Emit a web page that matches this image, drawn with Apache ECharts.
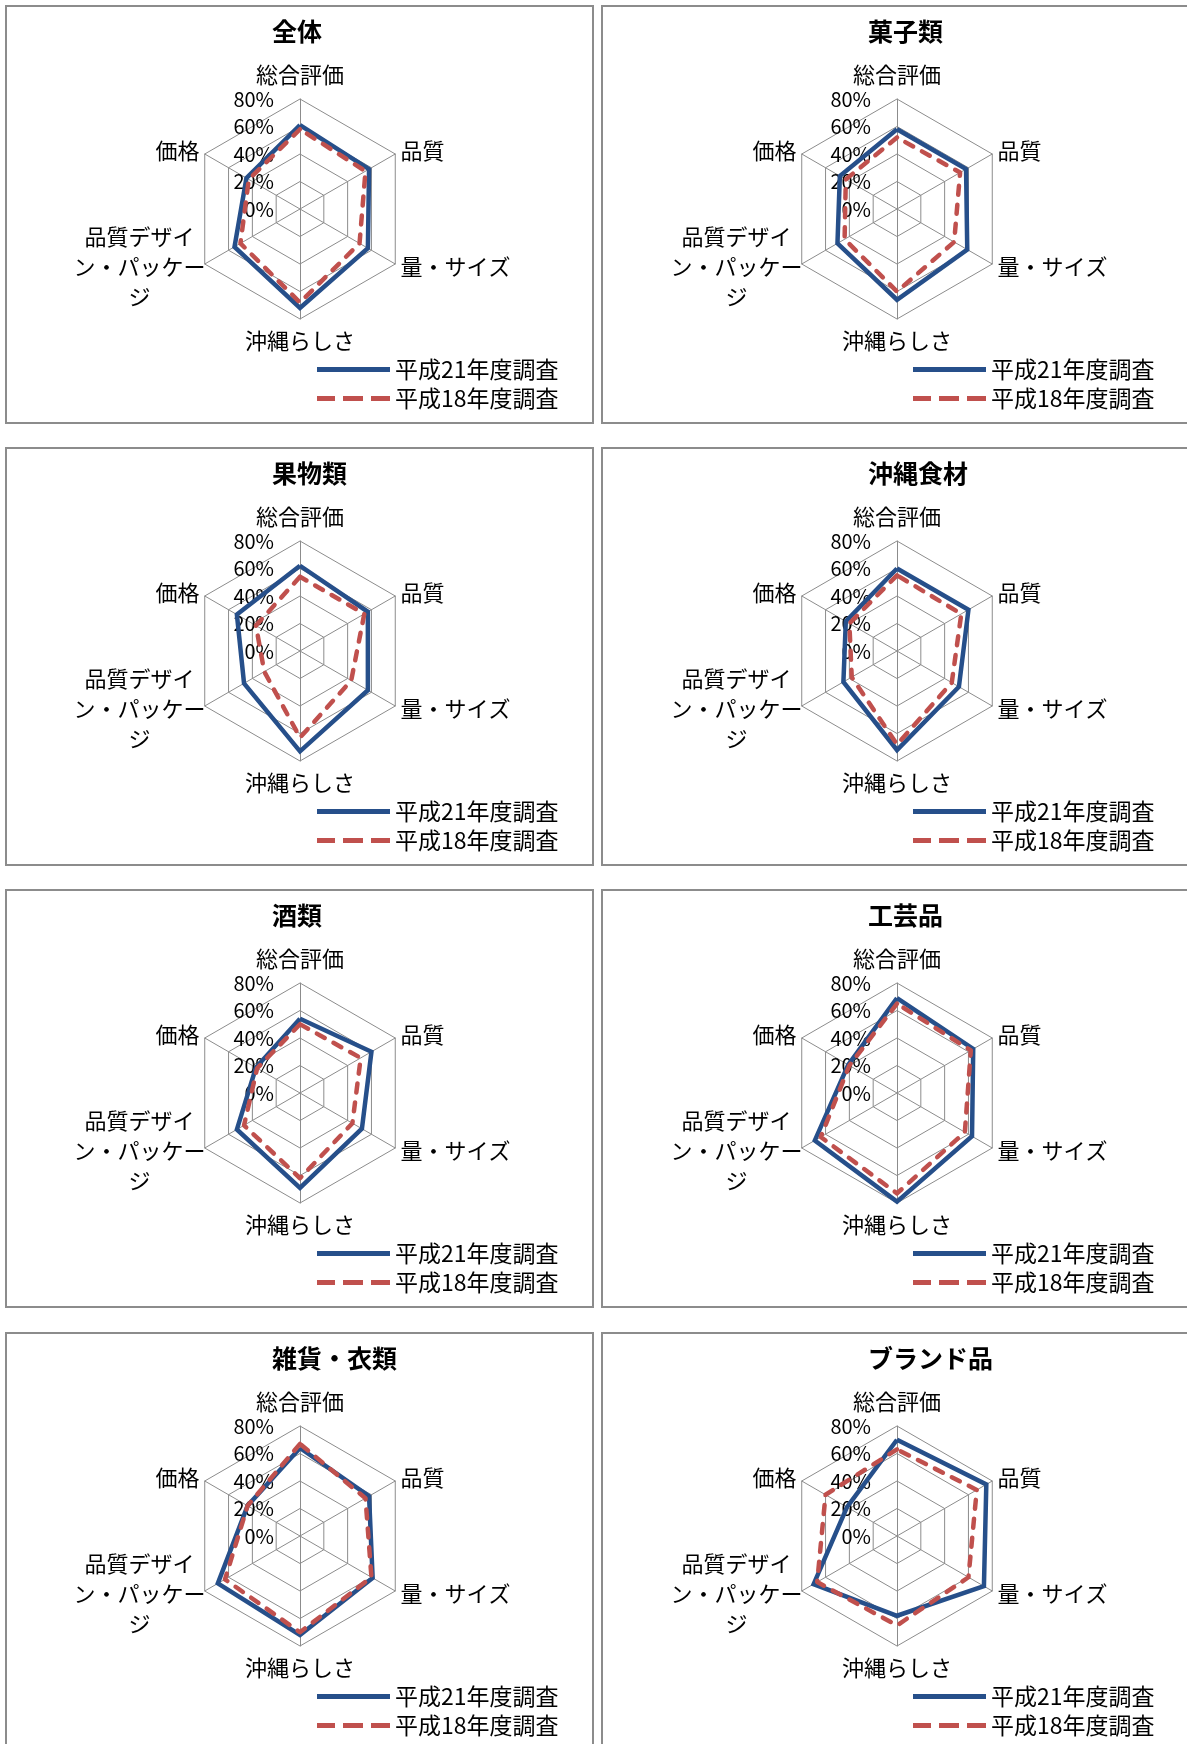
<!DOCTYPE html>
<html>
<head>
<meta charset="UTF-8">
<title>レーダーチャート</title>
<script src="https://cdn.jsdelivr.net/npm/echarts@6/dist/echarts.min.js"></script>
<style>
  html, body { margin: 0; padding: 0; background: #fff; overflow: hidden; }
  body { width: 1187px; height: 1744px; position: relative; }
  .panel { position: absolute; border: 2px solid #8c8c8c; box-sizing: border-box; background: #fff; }
</style>
</head>
<body>
<script type="text/javascript">
// 項目（時計回り、上から）
var categories = ['総合評価', '品質', '量・サイズ', '沖縄らしさ', '品質デザイン・パッケージ', '価格'];
var panelTitles = ['全体', '菓子類', '果物類', '沖縄食材', '酒類', '工芸品', '雑貨・衣類', 'ブランド品'];
var seriesNames = ['平成21年度調査', '平成18年度調査'];
// 各パネルの値（%）
var h21 = [
  [61, 58, 57, 72, 55, 45],
  [58, 58, 59, 66, 50, 48],
  [62, 57, 57, 73, 47, 53],
  [60, 60, 52, 72, 45, 43],
  [54, 60, 52, 69, 53, 37],
  [69, 64, 63, 79, 69, 41],
  [64, 58, 61, 72, 69, 44],
  [70, 75, 73, 58, 70, 42]
];
var h18 = [
  [58, 55, 50, 68, 50, 43],
  [52, 53, 48, 60, 44, 43],
  [54, 54, 43, 63, 30, 37],
  [55, 54, 46, 68, 38, 40],
  [50, 51, 44, 62, 47, 36],
  [65, 62, 57, 73, 64, 40],
  [67, 55, 60, 70, 63, 44],
  [63, 67, 60, 65, 67, 60]
];
var axisMin = 0, axisMax = 80, axisStep = 20;

var colors = ['#264f8a', '#c0504d'];
var gridColor = '#8c8c8c';
var fontFamily = '"Noto Sans CJK JP", "Noto Sans CJK SC", sans-serif';

// パネル配置
var colLeft = [5, 601], colWidth = [589, 600];
var rowTop = [5, 447, 889, 1332], boxH = 419;
var centers = [[293, 202], [294, 202]];

// echarts のレーダーは反時計回りなので、先頭以外を逆順にする
function ccw(arr) {
  return [arr[0]].concat(arr.slice(1).reverse());
}

// 長いラベルの折り返し（元図と同じ位置で改行）
function wrapName(name) {
  if (name.length <= 8) return name;
  return '{w|' + name.slice(0, 5) + '}\n{w|' + name.slice(5, 11) + '}\n{w|' + name.slice(11) + '}';
}

var gaps = [13, 6, 6, 11, 6, 6];
var solidIcon = 'path://M0,0h73v5h-73z';
var dashIcon = 'path://M0,0h18v5h-18z M26,0h20v5h-20z M54,0h19v5h-19z';

panelTitles.forEach(function (title, p) {
  var col = p % 2, row = Math.floor(p / 2);
  var div = document.createElement('div');
  div.className = 'panel';
  div.style.left = colLeft[col] + 'px';
  div.style.top = rowTop[row] + 'px';
  div.style.width = colWidth[col] + 'px';
  div.style.height = boxH + 'px';
  document.body.appendChild(div);

  var chart = echarts.init(div);
  var cats = ccw(categories);
  var gapList = ccw(gaps);

  var option = {
    animation: false,
    textStyle: { fontFamily: fontFamily },
    title: {
      text: title,
      left: 265,
      top: 12,
      padding: 0,
      textStyle: { fontSize: 25, fontWeight: 'bold', color: '#000', fontFamily: fontFamily }
    },
    legend: {
      orient: 'vertical',
      left: 310,
      top: 351,
      padding: 0,
      itemWidth: 73,
      itemHeight: 5,
      itemGap: 6,
      selectedMode: false,
      itemStyle: { borderWidth: 0 },
      textStyle: { fontSize: 23, color: '#000', fontFamily: fontFamily },
      data: [
        { name: seriesNames[0], icon: solidIcon, itemStyle: { color: colors[0], borderWidth: 0 } },
        { name: seriesNames[1], icon: dashIcon, itemStyle: { color: colors[1], borderWidth: 0 } }
      ]
    },
    radar: {
      center: centers[col],
      radius: 110,
      startAngle: 90,
      shape: 'polygon',
      splitNumber: (axisMax - axisMin) / axisStep,
      indicator: cats.map(function (c, k) {
        var ind = { name: c, min: axisMin, max: axisMax, nameGap: gapList[k] };
        if (k === 0) ind.axisLabel = { show: true };
        return ind;
      }),
      axisName: {
        color: '#000',
        fontSize: 22,
        fontFamily: fontFamily,
        formatter: wrapName,
        rich: {
          w: { width: 120, align: 'center', lineHeight: 30, fontSize: 22, color: '#000', fontFamily: fontFamily }
        }
      },
      axisLine: { lineStyle: { color: gridColor, width: 1 } },
      splitLine: { lineStyle: { color: gridColor, width: 1 } },
      splitArea: { show: false },
      axisTick: { show: false },
      axisLabel: {
        show: false,
        color: '#000',
        fontSize: 20,
        margin: 26,
        padding: [8, 0, 0, 0],
        formatter: '{value}%'
      }
    },
    series: [{
      type: 'radar',
      symbol: 'none',
      data: [
        {
          name: seriesNames[0],
          value: ccw(h21[p]),
          itemStyle: { color: colors[0] },
          lineStyle: { color: colors[0], width: 4.5, join: 'miter' }
        },
        {
          name: seriesNames[1],
          value: ccw(h18[p]),
          itemStyle: { color: colors[1] },
          lineStyle: { color: colors[1], width: 4.5, type: [9, 10], cap: 'round' }
        }
      ]
    }]
  };
  chart.setOption(option);
});
</script>
</body>
</html>
